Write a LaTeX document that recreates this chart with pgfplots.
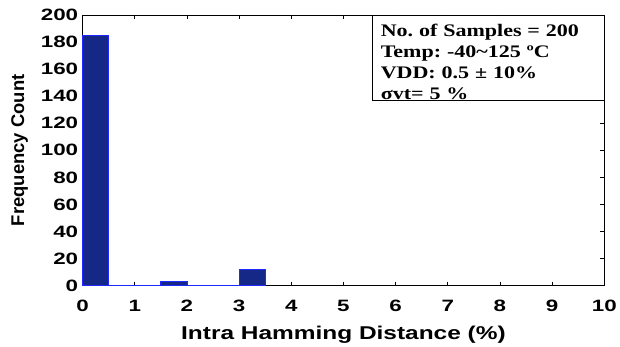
\documentclass[border=0pt]{standalone}
\usepackage{fontspec}
\setmainfont{Liberation Sans}
\newfontfamily\tickfont[FakeStretch=1.36, BoldFont={Liberation Sans Bold}]{Liberation Sans}
\newfontfamily\xlabfont[FakeStretch=1.32, BoldFont={Liberation Sans Bold}]{Liberation Sans}
\newfontfamily\ylabfont[BoldFont={Liberation Sans Bold}]{Liberation Sans}
\newfontfamily\boxfont[FakeStretch=1.25, BoldFont={Liberation Serif Bold}]{Liberation Serif}
\usepackage{pgfplots}
\pgfplotsset{compat=1.18}
\definecolor{barfill}{RGB}{21,40,135}
\definecolor{baredge}{RGB}{30,40,255}
\frenchspacing
\begin{document}
\begin{tikzpicture}
\begin{axis}[
  at={(0,0)}, anchor=south west,
  scale only axis, width=524pt, height=272pt,
  xmin=0, xmax=10, ymin=0, ymax=200,
  xtick={0,1,...,10}, ytick={0,20,...,200},
  tick align=inside, major tick length=4pt,
  tick style={black, line width=0.6pt},
  axis line style={black, line width=0.8pt},
  /pgf/number format/assume math mode=true,
  ticklabel style={font=\tickfont\bfseries\fontsize{16.5}{16.5}\selectfont},
  xticklabel style={yshift=-11pt},
  yticklabel style={xshift=-1pt},
  xlabel={Intra Hamming Distance (\%)},
  ylabel={Frequency Count},
  xlabel style={font=\xlabfont\bfseries\fontsize{18.6}{18.6}\selectfont, yshift=-7pt},
  ylabel style={font=\ylabfont\bfseries\fontsize{18.5}{18.5}\selectfont, yshift=6pt},
  clip=false,
]
\addplot[ybar interval, fill=barfill, draw=baredge, line width=0.8pt]
  coordinates {(0,185) (0.5,0) (1,0) (1.5,3) (2,0) (2.5,0) (3,12) (3.5,0)};
\node[draw=black, line width=0.7pt, fill=white, anchor=north east,
      minimum width=233pt, minimum height=85pt, inner sep=0pt]
  (infobox) at (rel axis cs:1,1) {};
\node[anchor=north west, inner sep=0pt, text width=220pt, align=left,
      font=\boxfont\bfseries\fontsize{17.7}{21}\selectfont]
  at ([xshift=9pt, yshift=-9.5pt]infobox.north west) {No.\ of Samples = 200\\
  Temp:\ -40\textasciitilde125 ºC\\
  VDD: 0.5 ± 10\%\\
  σvt= 5 \%};
\end{axis}
\path[use as bounding box] (-83pt,-61pt) rectangle (537pt,287pt);
\end{tikzpicture}
\end{document}
